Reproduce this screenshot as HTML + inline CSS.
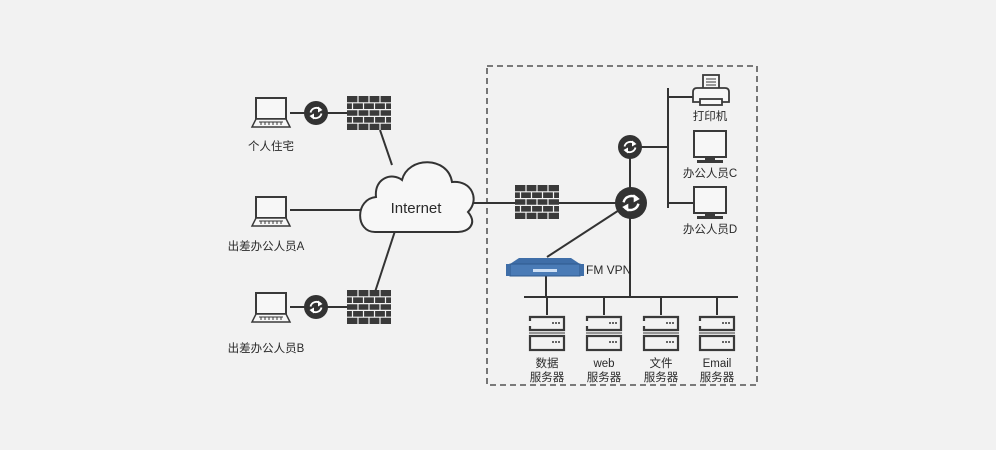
<!DOCTYPE html>
<html><head><meta charset="utf-8"><style>
html,body{margin:0;padding:0;background:#f2f2f2;}
svg{display:block}
text{font-family:"Liberation Sans","Noto Sans CJK SC",sans-serif;fill:#2a2a2a;font-size:11.5px;text-anchor:middle}
</style></head><body>
<svg width="996" height="450" viewBox="0 0 996 450" xmlns="http://www.w3.org/2000/svg">
<defs>
<g id="laptop">
<rect x="4" y="1" width="30" height="21" fill="#f7f7f7" stroke="#3a3a3a" stroke-width="2"/>
<path d="M4 22 L34 22 L38 30 L0 30 Z" fill="#f7f7f7" stroke="#3a3a3a" stroke-width="1.5"/>
<path d="M7 25 H31 M9 25 V28 M13 25 V28 M17 25 V28 M21 25 V28 M25 25 V28 M29 25 V28" stroke="#3a3a3a" stroke-width="1"/>
</g>
<g id="fw">
<rect x="0" y="0" width="44" height="34" fill="#3a3a3a"/>
<path d="M0 6.8 H44 M0 13.6 H44 M0 20.4 H44 M0 27.2 H44" stroke="#f2f2f2" stroke-width="1.2"/>
<path d="M11 0 V6.8 M22 0 V6.8 M33 0 V6.8 M5.5 6.8 V13.6 M16.5 6.8 V13.6 M27.5 6.8 V13.6 M38.5 6.8 V13.6 M11 13.6 V20.4 M22 13.6 V20.4 M33 13.6 V20.4 M5.5 20.4 V27.2 M16.5 20.4 V27.2 M27.5 20.4 V27.2 M38.5 20.4 V27.2 M11 27.2 V34 M22 27.2 V34 M33 27.2 V34" stroke="#f2f2f2" stroke-width="1.2"/>
</g>
<g id="sync">
<path d="M-5.5 -0.5 A6 6 0 0 1 4.5 -3.5" fill="none" stroke="#fff" stroke-width="1.8"/>
<path d="M5.5 0.5 A6 6 0 0 1 -4.5 3.5" fill="none" stroke="#fff" stroke-width="1.8"/>
<path d="M2 -6.5 L6.5 -3 L2 -0.5 Z M-2 6.5 L-6.5 3 L-2 0.5 Z" fill="#fff"/>
</g>
<g id="mon">
<rect x="1" y="1" width="32" height="26" fill="#f7f7f7" stroke="#3a3a3a" stroke-width="2"/>
<rect x="12" y="27" width="10" height="3" fill="#3a3a3a"/>
<rect x="4" y="30" width="26" height="3" fill="#3a3a3a"/>
</g>
<g id="srv">
<path d="M1 6 V2 H35 V15 H1 V11" fill="none" stroke="#3a3a3a" stroke-width="2.2"/>
<rect x="1" y="21" width="34" height="14" fill="none" stroke="#3a3a3a" stroke-width="2.2"/>
<path d="M0 18 H36" stroke="#3a3a3a" stroke-width="1"/>
<circle cx="24" cy="8" r="1" fill="#3a3a3a"/><circle cx="27" cy="8" r="1" fill="#3a3a3a"/><circle cx="30" cy="8" r="1" fill="#3a3a3a"/>
<circle cx="24" cy="27" r="1" fill="#3a3a3a"/><circle cx="27" cy="27" r="1" fill="#3a3a3a"/><circle cx="30" cy="27" r="1" fill="#3a3a3a"/>
</g>
</defs>

<rect x="487" y="66" width="270" height="319" fill="none" stroke="#333" stroke-width="1.3" stroke-dasharray="6,4"/>

<g stroke="#333" stroke-width="2" fill="none">
<path d="M290 113 H347"/>
<path d="M290 307 H347"/>
<path d="M290 210 H362"/>
<path d="M380 130 L392 165"/>
<path d="M395 231 L375 292"/>
<path d="M472 203 H630"/>
<path d="M630 147 V203"/>
<path d="M630 147 H668"/>
<path d="M668 88 V208"/>
<path d="M668 97 H695 M668 203 H695"/>
<path d="M630 203 L547 257"/>
<path d="M630 203 V297"/>
<path d="M524 297 H738"/>
<path d="M546 276 V297"/>
<path d="M547 297 V315 M604 297 V315 M661 297 V315 M717 297 V315"/>
</g>

<use href="#laptop" x="252" y="97"/>
<use href="#laptop" x="252" y="196"/>
<use href="#laptop" x="252" y="292"/>
<use href="#fw" x="347" y="96"/>
<use href="#fw" x="347" y="290"/>
<use href="#fw" x="515" y="185"/>

<circle cx="316" cy="113" r="12" fill="#333"/><use href="#sync" transform="translate(316,113)"/>
<circle cx="316" cy="307" r="12" fill="#333"/><use href="#sync" transform="translate(316,307)"/>
<circle cx="630" cy="147" r="12" fill="#333"/><use href="#sync" transform="translate(630,147)"/>
<circle cx="631" cy="203" r="16" fill="#333"/><use href="#sync" transform="translate(631,203) scale(1.35)"/>

<path d="M375 232 C355 232 355 199 376 197 C374 178 392 172 402 180 C408 156 448 156 452 182 C472 180 480 200 468 212 C478 224 468 232 458 232 Z" fill="#f7f7f7" stroke="#333" stroke-width="2"/>
<text x="416" y="213" style="font-size:15px">Internet</text>

<!-- printer -->
<g stroke="#3a3a3a" stroke-width="1.8" fill="#f7f7f7">
<rect x="703" y="75" width="16" height="16"/>
<path d="M697 88 H725 Q729 88 729 92 V102 H693 V92 Q693 88 697 88 Z"/>
<rect x="700" y="99" width="22" height="6"/>
</g>
<path d="M706 79 H716 M706 82 H716 M706 85 H716" stroke="#3a3a3a" stroke-width="1"/>

<use href="#mon" x="693" y="130"/>
<use href="#mon" x="693" y="186"/>

<!-- VPN -->
<path d="M519 258 L571 258 L580 264 L510 264 Z" fill="#3f6ea8"/>
<rect x="510" y="264" width="70" height="12" fill="#4a7bb6" stroke="#2f5a8e" stroke-width="1"/>
<rect x="506" y="264" width="4" height="12" fill="#3f6ea8"/>
<rect x="580" y="264" width="4" height="12" fill="#3f6ea8"/>
<rect x="533" y="269" width="24" height="3" fill="#cfe0f5"/>

<use href="#srv" x="529" y="315"/>
<use href="#srv" x="586" y="315"/>
<use href="#srv" x="643" y="315"/>
<use href="#srv" x="699" y="315"/>

<text x="271" y="150">个人住宅</text>
<text x="266" y="250">出差办公人员A</text>
<text x="266" y="352">出差办公人员B</text>
<text x="710" y="120">打印机</text>
<text x="710" y="177">办公人员C</text>
<text x="710" y="233">办公人员D</text>
<text x="586" y="274" style="font-size:12px;text-anchor:start">FM VPN</text>
<text x="547" y="367">数据</text><text x="547" y="381">服务器</text>
<text x="604" y="367">web</text><text x="604" y="381">服务器</text>
<text x="661" y="367">文件</text><text x="661" y="381">服务器</text>
<text x="717" y="367">Email</text><text x="717" y="381">服务器</text>
</svg>
</body></html>
